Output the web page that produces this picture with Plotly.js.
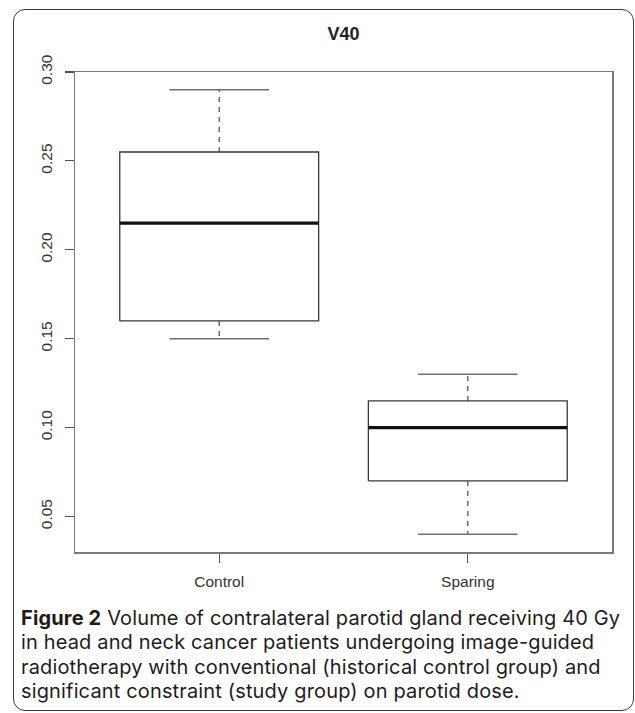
<!DOCTYPE html>
<html>
<head>
<meta charset="utf-8">
<script src="https://cdn.plot.ly/plotly-3.0.1.min.js"></script>
<style>
  html, body { margin: 0; padding: 0; background: #ffffff; overflow: hidden; }
  #wrap { position: relative; width: 635px; height: 713px; }
  #chart { position: absolute; left: 0; top: 0; width: 635px; height: 713px; }
  #frame { position: absolute; left: 13px; top: 9px; width: 621px; height: 702px;
           border: 1.5px solid #3c3c3c; border-radius: 12px; box-sizing: border-box;
           pointer-events: none; }
  #caption { position: absolute; left: 21px; top: 606px;
             font-family: Inter, "Open Sans", sans-serif; font-size: 20px;
             letter-spacing: 0.15px;
             line-height: 24.3px; color: #1f1b1c; white-space: pre; }
  #caption div { height: 24.3px; }
  #caption b { font-weight: 700; }
</style>
</head>
<body>
<div id="wrap">
  <div id="chart"></div>
  <div id="caption"></div>
  <div id="frame"></div>
</div>
<script>
// ---- data ----
const categories   = ['Control', 'Sparing'];
const lowerWhisker = [0.15, 0.04];
const q1           = [0.16, 0.07];
const median       = [0.215, 0.10];
const q3           = [0.255, 0.115];
const upperWhisker = [0.29, 0.13];
const yTickValues  = [0.05, 0.10, 0.15, 0.20, 0.25, 0.30];
const chartTitle   = 'V40';
const captionBold  = 'Figure 2';
const captionLines = [
  ' Volume of contralateral parotid gland receiving 40 Gy',
  'in head and neck cancer patients undergoing image-guided',
  'radiotherapy with conventional (historical control group) and',
  'significant constraint (study group) on parotid dose.'
];

// ---- caption (real text) ----
const capEl = document.getElementById('caption');
captionLines.forEach((t, i) => {
  const line = document.createElement('div');
  if (i === 0) {
    const b = document.createElement('b');
    b.textContent = captionBold;
    line.appendChild(b);
  }
  line.appendChild(document.createTextNode(t));
  capEl.appendChild(line);
});

// ---- build box-plot marks (R style) ----
const boxHalf = 0.4, capHalf = 0.2;
const boxX = [], boxY = [], medX = [], medY = [], whX = [], whY = [], capX = [], capY = [];
categories.forEach((c, i) => {
  const p = i + 1;
  boxX.push(p - boxHalf, p + boxHalf, p + boxHalf, p - boxHalf, p - boxHalf, null);
  boxY.push(q1[i], q1[i], q3[i], q3[i], q1[i], null);
  medX.push(p - boxHalf, p + boxHalf, null);
  medY.push(median[i], median[i], null);
  whX.push(p, p, null, p, p, null);
  whY.push(q3[i], upperWhisker[i], null, q1[i], lowerWhisker[i], null);
  capX.push(p - capHalf, p + capHalf, null, p - capHalf, p + capHalf, null);
  capY.push(upperWhisker[i], upperWhisker[i], null, lowerWhisker[i], lowerWhisker[i], null);
});

const traces = [
  { type: 'scatter', mode: 'lines', x: whX, y: whY, hoverinfo: 'skip',
    line: { color: '#4a4a4a', width: 1.2, dash: '5px,5px' } },
  { type: 'scatter', mode: 'lines', x: capX, y: capY, hoverinfo: 'skip',
    line: { color: '#6e6e6e', width: 1.5 } },
  { type: 'scatter', mode: 'lines', x: boxX, y: boxY, hoverinfo: 'skip',
    line: { color: '#3a3a3a', width: 1.3 } },
  { type: 'scatter', mode: 'lines', x: medX, y: medY, hoverinfo: 'skip',
    line: { color: '#111111', width: 3.2 } }
];

// ---- layout ----
const W = 635, H = 713;
const L = 75, R = 23, T = 72, B = 161;

const axisFont = { family: '"Liberation Sans", Arial, sans-serif', size: 15.5, color: '#333333' };
const layout = {
  width: W, height: H,
  margin: { l: L, r: R, t: T, b: B, pad: 0 },
  paper_bgcolor: '#ffffff', plot_bgcolor: '#ffffff',
  showlegend: false,
  title: {
    text: '<b>' + chartTitle + '</b>',
    font: { family: '"Liberation Sans", Arial, sans-serif', size: 18, color: '#222222' },
    xref: 'paper', x: 0.5, xanchor: 'center',
    yref: 'container', y: 1 - 34 / H, yanchor: 'middle'
  },
  xaxis: {
    range: [0.42, 2.58], tickvals: [1, 2], ticktext: categories,
    ticks: 'outside', ticklen: 9, tickwidth: 1.2, tickcolor: '#555555',
    showgrid: false, zeroline: false,
    showline: true, mirror: true, linecolor: '#7a7a7a', linewidth: 1.5,
    tickfont: axisFont, ticklabelstandoff: 6, fixedrange: true
  },
  yaxis: {
    range: [0.03, 0.30], tickvals: yTickValues,
    ticktext: yTickValues.map(v => v.toFixed(2)),
    tickangle: -90,
    ticks: 'outside', ticklen: 9, tickwidth: 1.2, tickcolor: '#555555',
    showgrid: false, zeroline: false,
    showline: true, mirror: true, linecolor: '#7a7a7a', linewidth: 1.5,
    tickfont: axisFont, ticklabelstandoff: 6, fixedrange: true
  }
};

Plotly.newPlot('chart', traces, layout, { displayModeBar: false, staticPlot: true });
</script>
</body>
</html>
